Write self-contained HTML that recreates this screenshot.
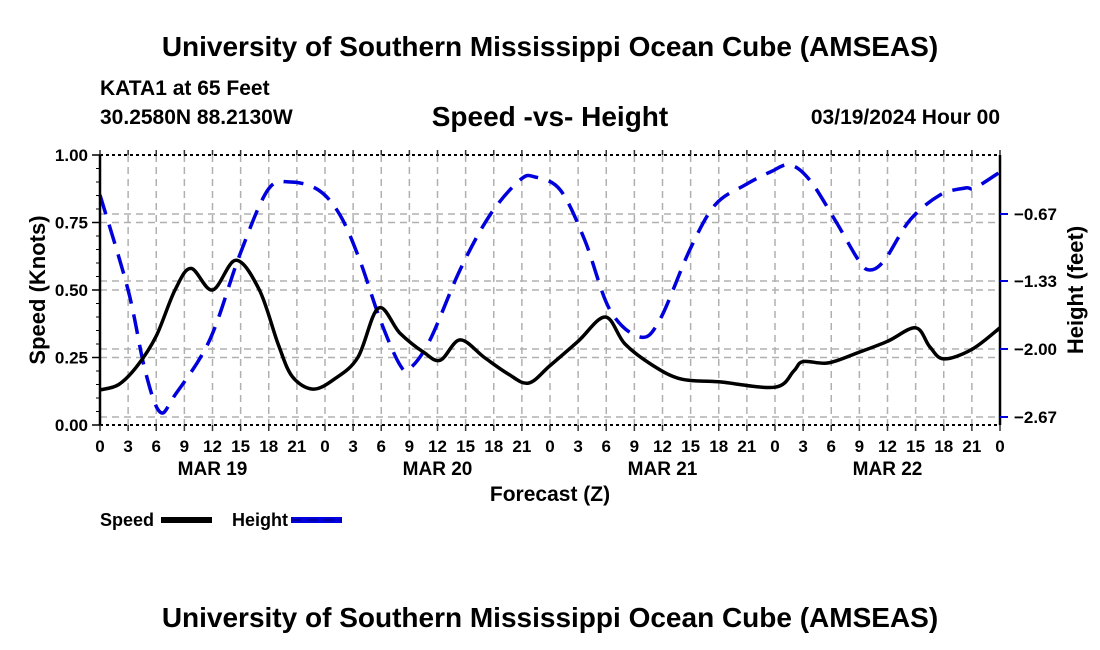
<!DOCTYPE html>
<html><head><meta charset="utf-8"><style>
body{margin:0;background:#fff;}
svg{display:block;font-family:"Liberation Sans",Arial,sans-serif;font-weight:bold;}
</style></head><body>
<svg id="chart" width="1100" height="650" viewBox="0 0 1100 650">
<text x="550" y="56" text-anchor="middle" font-size="28">University of Southern Mississippi Ocean Cube (AMSEAS)</text>
<text x="100" y="95" font-size="21">KATA1 at 65 Feet</text>
<text x="100" y="124" font-size="21">30.2580N  88.2130W</text>
<text x="550" y="126" text-anchor="middle" font-size="28">Speed -vs- Height</text>
<text x="1000" y="124" text-anchor="end" font-size="21">03/19/2024 Hour 00</text>
<g id="grid"></g>
<g id="series"></g>
<g id="axes"></g>
<text transform="translate(45,290) rotate(-90)" text-anchor="middle" font-size="22">Speed (Knots)</text>
<text transform="translate(1083,290) rotate(-90)" text-anchor="middle" font-size="22">Height (feet)</text>
<text x="550" y="501" text-anchor="middle" font-size="21">Forecast (Z)</text>
<g>
<text x="100" y="526" font-size="18">Speed</text>
<rect x="161" y="517" width="51" height="6" fill="#000"/>
<text x="232" y="526" font-size="18">Height</text>
<rect x="291" y="517" width="51" height="6" fill="#0000dd"/>
<line x1="292" y1="520" x2="342" y2="520" stroke="#000066" stroke-width="1" stroke-dasharray="10,6"/>
</g>
<text x="550" y="627" text-anchor="middle" font-size="28">University of Southern Mississippi Ocean Cube (AMSEAS)</text>
</svg>
<script>
const speedHours=[0,2,4,6,8,9.7,12,14.5,17,19,20.5,22.7,25,27.5,29.7,32,34.5,36.3,38.4,41,43.5,45.7,48,51,53.9,56,59,62,66,72,74,75,77.7,81,84,87,88.5,90,93,96];
const speedValues=[.13,.15,.22,.33,.50,.58,.50,.61,.50,.30,.18,.133,.17,.25,.433,.34,.27,.24,.315,.25,.19,.155,.22,.31,.40,.30,.22,.17,.16,.14,.20,.235,.23,.27,.31,.36,.29,.245,.28,.36];
const heightHours=[0,3,4.8,6.4,8,11.7,14.9,17.9,20.3,23.3,25.6,27.7,29.9,32,33.1,35.2,38.4,41.6,44.8,46.4,49.1,51.7,54.4,57.6,59.7,62.9,65.6,68.8,71.5,73.6,75.7,78.4,80.9,82.1,83.7,86.4,89.6,92.3,93.3,96];
const heightValues=[-0.483,-1.419,-2.207,-2.621,-2.453,-1.911,-1.074,-0.434,-0.355,-0.434,-0.680,-1.123,-1.714,-2.158,-2.187,-1.911,-1.222,-0.680,-0.335,-0.305,-0.434,-0.926,-1.616,-1.882,-1.714,-1.025,-0.581,-0.384,-0.256,-0.187,-0.335,-0.729,-1.123,-1.222,-1.123,-0.729,-0.483,-0.414,-0.414,-0.256];
const speedTicks=[0,0.25,0.5,0.75,1.0];
const speedTickLabels=["0.00","0.25","0.50","0.75","1.00"];
const heightTicks=[-0.67,-1.33,-2.00,-2.67];
const heightTickLabels=["\u22120.67","\u22121.33","\u22122.00","\u22122.67"];
const hourTickLabels=["0","3","6","9","12","15","18","21"];
const dayLabels=["MAR 19","MAR 20","MAR 21","MAR 22"];

const X0=100,X1=1000,Y0=425,Y1=155,HMAX=96;
const xs=h=>X0+(h/HMAX)*(X1-X0);
const ys=v=>Y0-(v)*(Y0-Y1);
const yh=h=>214+(-0.67-h)*101.5;
const NS="http://www.w3.org/2000/svg";
function mk(tag,attrs,parent){const e=document.createElementNS(NS,tag);for(const k in attrs)e.setAttribute(k,attrs[k]);parent.appendChild(e);return e;}
const grid=document.getElementById('grid'),series=document.getElementById('series'),axes=document.getElementById('axes');
const gs={stroke:"#b0b0b0","stroke-width":1.5,"stroke-dasharray":"7,5",fill:"none"};
for(let h=3;h<HMAX;h+=3){const l=mk('line',Object.assign({x1:xs(h),x2:xs(h),y1:Y1,y2:Y0},gs),grid);

}
speedTicks.forEach(v=>{if(v>0&&v<1){const l=mk('line',Object.assign({x1:X0,x2:X1,y1:ys(v),y2:ys(v)},gs),grid);

}});
heightTicks.forEach(v=>{const l=mk('line',Object.assign({x1:X0,x2:X1,y1:yh(v),y2:yh(v)},gs),grid);

});
function smooth(pts){let d=`M${pts[0][0]},${pts[0][1]}`;for(let i=0;i<pts.length-1;i++){const p0=pts[i-1]||pts[i],p1=pts[i],p2=pts[i+1],p3=pts[i+2]||p2;
const c1=[p1[0]+(p2[0]-p0[0])/6,p1[1]+(p2[1]-p0[1])/6],c2=[p2[0]-(p3[0]-p1[0])/6,p2[1]-(p3[1]-p1[1])/6];
d+=`C${c1[0].toFixed(1)},${c1[1].toFixed(1)} ${c2[0].toFixed(1)},${c2[1].toFixed(1)} ${p2[0].toFixed(1)},${p2[1].toFixed(1)}`;}return d;}
const hp=mk('path',{d:smooth(heightHours.map((h,i)=>[xs(h),yh(heightValues[i])])),stroke:"#0000dd","stroke-width":3.5,fill:"none","stroke-dasharray":"20,11"},series);


const sp=mk('path',{d:smooth(speedHours.map((h,i)=>[xs(h),ys(speedValues[i])])),stroke:"#000","stroke-width":3.5,fill:"none"},series);


[[X0,Y1,X1,Y1],[X0,Y0,X1,Y0]].forEach(a=>{const l=mk('line',{x1:a[0],y1:a[1],x2:a[2],y2:a[3],stroke:"#000","stroke-width":2,"stroke-dasharray":"3,3"},axes);

});
[[X0,Y1,X0,Y0],[X1,Y1,X1,Y0]].forEach(a=>{const l=mk('line',{x1:a[0],y1:a[1],x2:a[2],y2:a[3],stroke:"#000","stroke-width":2.5},axes);

});
for(let h=0;h<=HMAX;h+=3){[[Y1,Y1-5],[Y0,Y0+6]].forEach(a=>{const t=mk('line',{x1:xs(h),x2:xs(h),y1:a[0],y2:a[1],stroke:"#333","stroke-width":1.5},axes);

});
const tx=mk('text',{x:xs(h),y:452,"text-anchor":"middle","font-size":17},axes);tx.textContent=hourTickLabels[(h/3)%8];

}
dayLabels.forEach((d,i)=>{const t=mk('text',{x:xs(12+24*i),y:475,"text-anchor":"middle","font-size":19},axes);t.textContent=d;

});
speedTicks.forEach((v,i)=>{const t=mk('line',{x1:X0-8,x2:X0,y1:ys(v),y2:ys(v),stroke:"#000","stroke-width":1.5},axes);


const tx=mk('text',{x:X0-12,y:ys(v)+6,"text-anchor":"end","font-size":17},axes);tx.textContent=speedTickLabels[i];

});
for(let v=0.05;v<1;v+=0.05){if(Math.abs((v*4)-Math.round(v*4))<1e-6)continue;const t=mk('line',{x1:X0-4,x2:X0,y1:ys(v),y2:ys(v),stroke:"#000","stroke-width":1},axes);

}
heightTicks.forEach((v,i)=>{const t=mk('line',{x1:X1,x2:X1+8,y1:yh(v),y2:yh(v),stroke:"#0000dd","stroke-width":2},axes);


const tx=mk('text',{x:X1+14,y:yh(v)+6,"font-size":17},axes);tx.textContent=heightTickLabels[i];

});
</script>
</body></html>
